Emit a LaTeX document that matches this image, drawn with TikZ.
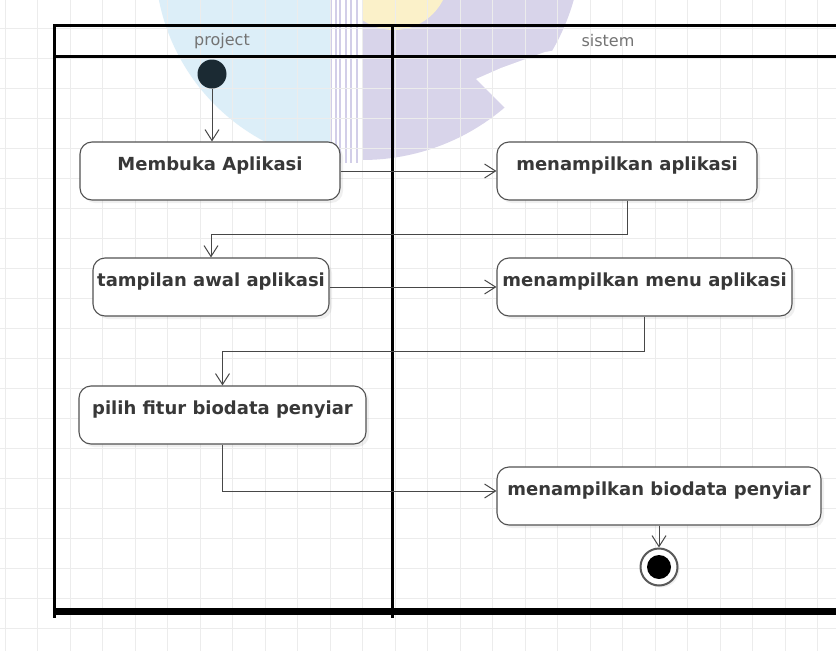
\documentclass[tikz,border=0pt]{standalone}
\usepackage{fontspec}
\setmainfont{DejaVu Sans}
\usetikzlibrary{arrows.meta,shadows}

\definecolor{wmblue}{HTML}{DCEEF8}
\definecolor{wmpurple}{HTML}{D8D4EA}
\definecolor{wmyellow}{HTML}{FBF1C9}
\definecolor{wmstripe}{HTML}{D2CEE8}
\definecolor{gridc}{HTML}{ECECEC}
\definecolor{startc}{HTML}{1B2A33}

\tikzset{
  act/.style={draw=black!68, line width=1.1pt, rounded corners=12pt, fill=white,
    font=\fontsize{18}{20}\selectfont\bfseries, text=black!78,
    inner xsep=0pt, inner ysep=6pt, text height=22pt, text depth=24pt,
    drop shadow={shadow xshift=3pt, shadow yshift=-3pt, opacity=0.12}},
  flow/.style={draw=black!72, line width=1pt, -{Straight Barb[length=11pt,width=14pt]}},
  lane/.style={line width=3pt},
  lanetitle/.style={font=\fontsize{16}{18}\selectfont, text=black!55},
  gridline/.style={draw=gridc, line width=0.8pt},
}

\begin{document}
\begin{tikzpicture}[x=1pt,y=-1pt]
  \useasboundingbox (0,0) rectangle (836,651);
  \fill[white] (0,0) rectangle (836,651);

  % watermark
  \begin{scope}
    \clip (0,0) rectangle (330,651);
    \fill[wmblue] (360,-40) circle (205);
  \end{scope}
  \begin{scope}
    \clip (362,0) rectangle (836,651);
    \fill[wmpurple] (362,-60) circle (220);
    \fill[white] (620,40) -- (545,52) -- (501,68) -- (476,79) -- (507,110)
      -- (620,110) -- cycle;
    \fill[wmyellow] (394,-25) circle (55);
  \end{scope}
  \foreach \x in {331,336,340,346,351,357}
    \draw[wmstripe, line width=1.6pt] (\x,0) -- (\x,163);

  % grid
  \foreach \i in {0,...,25}
    \draw[gridline] ({5+32.5*\i},0) -- ++(0,651);
  \foreach \i in {0,...,21}
    \draw[gridline] (0,{28+30*\i}) -- ++(836,0);

  % swimlanes
  \draw[lane] (53,25) -- (836,25);
  \draw[lane] (53,56) -- (836,56);
  \draw[lane] (54,25) -- (54,618);
  \draw[lane] (392,25) -- (392,618);
  \draw[line width=7pt] (53,611) -- (836,611);
  \node[lanetitle] (l1) at (222,41) {project};
  \node[lanetitle] (l2) at (608,41) {sistem};

  % activities
  \node[circle, fill=startc, minimum size=29pt, inner sep=0pt] (s0) at (212,74) {};
  \node[act, minimum width=260pt] (a1) at (210,171) {Membuka Aplikasi};
  \node[act, minimum width=260pt] (a2) at (627,171) {menampilkan aplikasi};
  \node[act, minimum width=236pt] (a3) at (211,287) {tampilan awal aplikasi};
  \node[act, minimum width=295pt] (a4) at (644.5,287) {menampilkan menu aplikasi};
  \node[act, minimum width=287pt] (a5) at (222.5,415) {pilih fitur biodata penyiar};
  \node[act, minimum width=324pt] (a6) at (659,496) {menampilkan biodata penyiar};
  \node[circle, draw=black!65, line width=2pt, fill=white, minimum size=37pt,
    inner sep=0pt, drop shadow={shadow xshift=2pt, shadow yshift=-2pt, opacity=0.12}]
    (e0) at (659,567) {};
  \fill (e0) circle (12);

  % flows
  \draw[flow] (s0) -- (s0 |- a1.north);
  \draw[flow] (a1) -- (a2);
  \draw[flow] (a2.south) -- ++(0,34) -| (a3.north);
  \draw[flow] (a3) -- (a4);
  \draw[flow] (a4.south) -- ++(0,35) -| (a5.north);
  \draw[flow] (a5.south) |- ([yshift=5pt]a6.west);
  \draw[flow] (a6) -- (e0);
\end{tikzpicture}
\end{document}
